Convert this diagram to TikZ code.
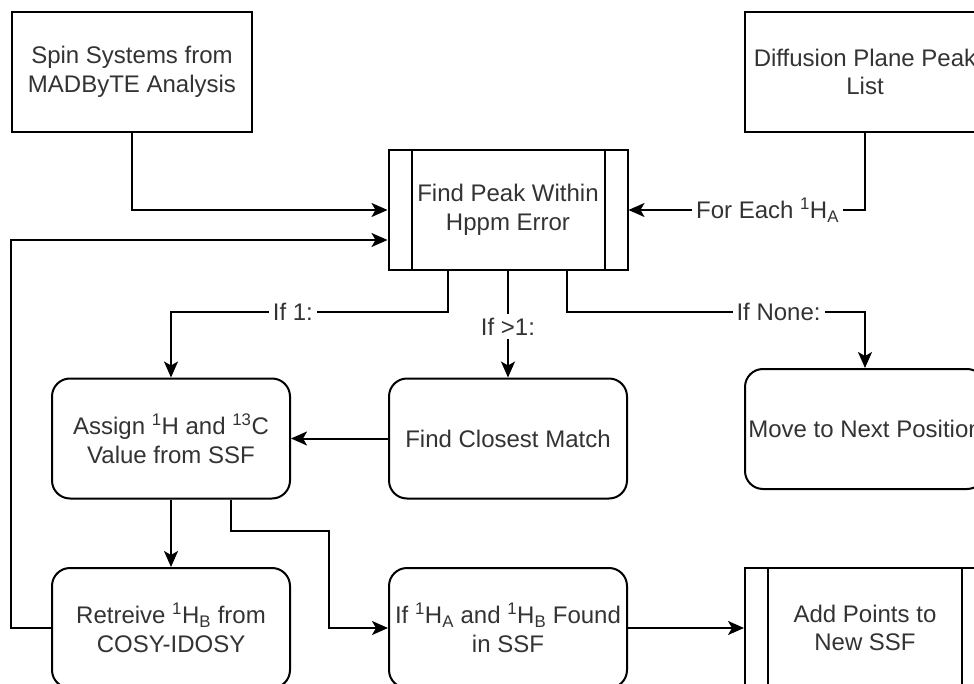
\documentclass[tikz,border=0pt]{standalone}
\usepackage{fontspec}
\setmainfont{Liberation Sans}
\usetikzlibrary{arrows.meta}
\begin{document}
\begin{tikzpicture}[x=1pt,y=-1pt,
  box/.style={draw, line width=2pt, minimum width=240pt, minimum height=120pt,
    inner sep=0pt, align=center, font=\fontsize{24}{28.8}\selectfont, text=black!80},
  roundbox/.style={box, rounded corners=18pt},
  flow/.style={line width=2pt, -{Stealth[length=16pt,width=14pt,inset=4pt]}},
  plain/.style={line width=2pt},
  lbl/.style={fill=white, inner sep=4pt, font=\fontsize{24}{28.8}\selectfont, text=black!80}
]
\useasboundingbox (0,0) rectangle (974,684);
\clip (0,0) rectangle (974,684);

% inputs
\node[box] (spin) at (132,72) {Spin Systems from\\MADByTE Analysis};
\node[box] (diff) at (865,72) {Diffusion Plane Peak\\List};

% peak search (predefined process)
\node[box, minimum width=239pt] (fp) at (508,210) {Find Peak Within\\Hppm Error};
\draw[plain] ([xshift=24pt]fp.north west) -- ([xshift=24pt]fp.south west);
\draw[plain] ([xshift=-24pt]fp.north east) -- ([xshift=-24pt]fp.south east);

% outcomes
\node[roundbox, minimum width=238pt] (asg) at (171,438.5) {Assign \textsuperscript{1}H and \textsuperscript{13}C\\Value from SSF};
\node[roundbox, minimum width=238pt] (cm) at (508,438.5) {Find Closest Match};
\node[roundbox] (mv) at (865,429) {Move to Next Position};

% bottom row
\node[roundbox, minimum width=238pt] (ret) at (171,628) {Retreive \textsuperscript{1}H\textsubscript{B} from\\COSY-IDOSY};
\node[roundbox, minimum width=238pt] (ifb) at (508,628) {If \textsuperscript{1}H\textsubscript{A} and \textsuperscript{1}H\textsubscript{B} Found\\in SSF};
\node[box] (add) at (865,628) {Add Points to\\New SSF};
\draw[plain] ([xshift=24pt]add.north west) -- ([xshift=24pt]add.south west);
\draw[plain] ([xshift=-24pt]add.north east) -- ([xshift=-24pt]add.south east);

% connectors
\draw[flow] (spin.south) |- (fp.west);
\draw[flow] (diff.south) |- node[lbl, pos=0.706] {For Each \textsuperscript{1}H\textsubscript{A}} (fp.east);
\draw[flow] (ret.west) -- ++(-40,0) |- ([yshift=-30pt]fp.west);
\draw[flow] ([xshift=-60pt]fp.south) -- ++(0,41) -| node[lbl, pos=0.28] {If 1:} (asg.north);
\draw[flow] (fp.south) -- node[lbl, pos=0.52] {If >1:} (cm.north);
\draw[flow] ([xshift=59pt]fp.south) -- ++(0,41) -| node[lbl, pos=0.355] {If None:} (mv.north);
\draw[flow] (cm.west) -- (asg.east);
\draw[flow] (asg.south) -- (ret.north);
\draw[flow] ([xshift=60pt]asg.south) -- ++(0,31) -- ++(98,0) |- (ifb.west);
\draw[flow] (ifb.east) -- (add.west);
\end{tikzpicture}
\end{document}
